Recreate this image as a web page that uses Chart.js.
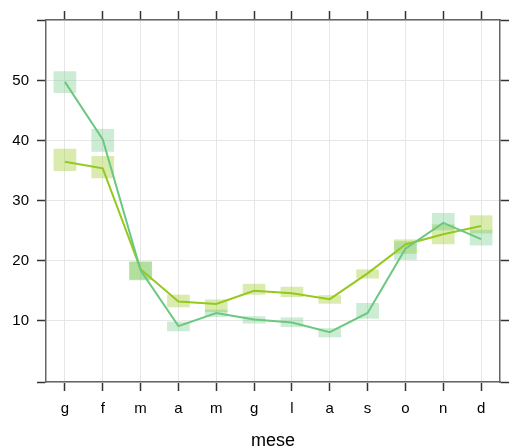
<!DOCTYPE html>
<html>
<head>
<meta charset="utf-8">
<script src="https://cdn.jsdelivr.net/npm/chart.js@4"></script>
<style>
  body { margin: 0; background: #fff; }
</style>
</head>
<body>
<canvas id="meseChart" width="509" height="447"></canvas>
<script>
// mesi (categorie)
var mesi = ["g", "f", "m", "a", "m", "g", "l", "a", "s", "o", "n", "d"];
// valori delle linee
var lineaVerde = [49.8, 40.2, 18.4, 9.1, 11.3, 10.2, 9.7, 8.1, 11.3, 22.0, 26.3, 23.6];
var lineaGialla = [36.5, 35.4, 18.6, 13.2, 12.8, 15.0, 14.6, 13.6, 17.9, 22.7, 24.4, 25.8];
// rettangoli (min, max)
var bandaVerde = [[48.0, 51.5], [38.2, 41.9], [16.8, 19.8], [8.3, 9.8], [10.7, 11.8], [9.6, 10.7],
                  [9.0, 10.5], [7.3, 8.7], [10.4, 12.9], [20.2, 23.2], [25.1, 27.9], [22.6, 25.1]];
var bandaGialla = [[35.0, 38.6], [33.8, 37.4], [16.9, 19.8], [12.3, 14.3], [11.5, 13.5], [14.4, 16.1],
                   [14.0, 15.6], [12.9, 14.2], [17.1, 18.5], [21.2, 23.5], [22.8, 26.0], [24.6, 27.5]];
// asse y
var yTicks = [10, 20, 30, 40, 50];
var yMin = -0.2;
var yMax = 60.1;

var font = { family: "'Liberation Sans', Arial, sans-serif", size: 15 };
var bordo = { color: "#666666", width: 1.5 };

function tickY(scale) {
    scale.ticks = [yMin].concat(yTicks, [yMax]).map(function (v) { return { value: v }; });
}

window.onload = function () {
    var ctx = document.getElementById("meseChart").getContext("2d");
    new Chart(ctx, {
        data: {
            labels: mesi,
            datasets: [{
                type: "line",
                data: lineaVerde,
                borderColor: "rgb(108, 200, 128)",
                borderWidth: 2,
                pointRadius: 0,
                tension: 0,
                order: 0
            }, {
                type: "line",
                data: lineaGialla,
                borderColor: "rgb(150, 200, 30)",
                borderWidth: 2,
                pointRadius: 0,
                tension: 0,
                order: 0
            }, {
                type: "bar",
                data: bandaVerde,
                backgroundColor: "rgba(108, 200, 128, 0.35)",
                borderWidth: 0,
                barThickness: 22,
                grouped: false,
                order: 1
            }, {
                type: "bar",
                data: bandaGialla,
                backgroundColor: "rgba(160, 205, 50, 0.4)",
                borderWidth: 0,
                barThickness: 22,
                grouped: false,
                order: 1
            }]
        },
        options: {
            responsive: false,
            animation: false,
            plugins: { legend: { display: false }, tooltip: { enabled: false } },
            layout: { padding: 0 },
            scales: {
                x: {
                    type: "category",
                    position: "bottom",
                    offset: true,
                    grid: { offset: false, color: "#e6e6e6", tickColor: "#333", tickLength: 9, tickWidth: 1.5 },
                    border: bordo,
                    ticks: { font: font, color: "#000", padding: 9, autoSkip: false, maxRotation: 0 },
                    title: { display: true, text: "mese", color: "#000",
                             font: { family: font.family, size: 18, lineHeight: 1 }, padding: { top: 0, bottom: -3 } },
                    afterFit: function (s) { s.height = 65; }
                },
                x2: {
                    type: "category",
                    labels: mesi,
                    position: "top",
                    offset: true,
                    grid: { offset: false, drawOnChartArea: false, tickColor: "#333", tickLength: 9, tickWidth: 1.5 },
                    border: bordo,
                    ticks: { display: false },
                    afterFit: function (s) { s.height = 20; }
                },
                y: {
                    type: "linear",
                    position: "left",
                    min: yMin,
                    max: yMax,
                    afterBuildTicks: tickY,
                    grid: { color: "#e6e6e6", tickColor: "#333", tickLength: 9, tickWidth: 1.5 },
                    border: bordo,
                    ticks: {
                        font: font, color: "#000", padding: 8,
                        callback: function (v) { return yTicks.indexOf(v) >= 0 ? v : ""; }
                    },
                    afterFit: function (s) { s.width = 46; }
                },
                y2: {
                    type: "linear",
                    position: "right",
                    min: yMin,
                    max: yMax,
                    afterBuildTicks: tickY,
                    grid: { drawOnChartArea: false, tickColor: "#333", tickLength: 9, tickWidth: 1.5 },
                    border: bordo,
                    ticks: { display: false },
                    afterFit: function (s) { s.width = 9; }
                }
            }
        }
    });
};
</script>
</body>
</html>
